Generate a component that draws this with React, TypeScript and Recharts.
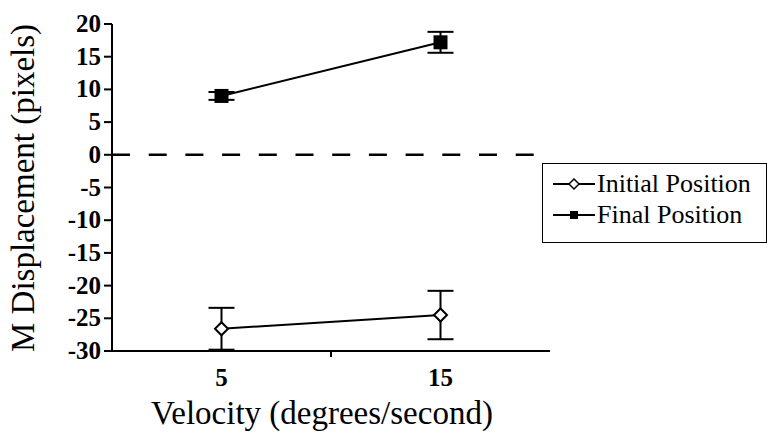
import React from "react";
import {
  LineChart,
  Line,
  XAxis,
  YAxis,
  ErrorBar,
  ReferenceLine,
  Legend,
} from "recharts";

const velocities = [5, 15];
const initialMeans = [-26.6, -24.5];
const initialErrors = [3.2, 3.7];
const finalMeans = [9.0, 17.2];
const finalErrors = [0.6, 1.6];
const yTicks = [20, 15, 10, 5, 0, -5, -10, -15, -20, -25, -30];
const xTicks = [0, 5, 10, 15, 20];
const xLabelTicks = [5, 15];
const seriesNames = ["Initial Position", "Final Position"];
const yTitle = "M Displacement (pixels)";
const xTitle = "Velocity (degrees/second)";

const data = velocities.map((v, i) => ({
  velocity: v,
  initial: initialMeans[i],
  initialErr: initialErrors[i],
  final: finalMeans[i],
  finalErr: finalErrors[i],
}));

const FONT = "'Liberation Serif', 'Times New Roman', serif";
const tickStyle: React.CSSProperties = {
  fontFamily: FONT,
  fontWeight: 700,
  fontSize: 25,
  fill: "#000",
};

const DiamondDot = (props: any) => {
  const { cx, cy } = props;
  if (cx == null || cy == null) return null;
  const r = 6.5;
  return (
    <path
      d={`M${cx},${cy - r} L${cx + r},${cy} L${cx},${cy + r} L${cx - r},${cy} Z`}
      fill="#fff"
      stroke="#000"
      strokeWidth={2}
    />
  );
};

const SquareDot = (props: any) => {
  const { cx, cy } = props;
  if (cx == null || cy == null) return null;
  const s = 7;
  return <rect x={cx - s} y={cy - s} width={2 * s} height={2 * s} fill="#000" />;
};

const renderXTick = (props: any) => {
  const { x, y, payload } = props;
  const v = payload.value;
  if (xLabelTicks.includes(v)) {
    return (
      <text x={x} y={y + 27} textAnchor="middle" style={tickStyle}>
        {v}
      </text>
    );
  }
  if (v === 10) {
    return <line x1={x} x2={x} y1={y - 8} y2={y - 2} stroke="#000" strokeWidth={2} />;
  }
  return <g />;
};

const renderYTick = (props: any) => {
  const { x, y, payload } = props;
  return (
    <text x={x} y={y + 8} textAnchor="end" style={tickStyle}>
      {payload.value}
    </text>
  );
};

const LegendContent = () => (
  <div
    style={{
      border: "1.5px solid #000",
      boxSizing: "border-box",
      width: 225,
      height: 80,
      background: "#fff",
      fontFamily: FONT,
      fontSize: 26,
      paddingTop: 4,
    }}
  >
    {seriesNames.map((name, i) => (
      <div key={name} style={{ display: "flex", alignItems: "center", height: 31, marginLeft: 10 }}>
        <svg width={42} height={20} style={{ marginRight: 2 }}>
          <line x1={0} x2={42} y1={10} y2={10} stroke="#000" strokeWidth={2} />
          {i === 0 ? (
            <path d="M21,5 L26,10 L21,15 L16,10 Z" fill="#fff" stroke="#000" strokeWidth={1.5} />
          ) : (
            <rect x={17} y={6} width={8} height={8} fill="#000" />
          )}
        </svg>
        <span style={{ color: "#000", whiteSpace: "nowrap", fontFamily: FONT, fontSize: 26 }}>{name}</span>
      </div>
    ))}
  </div>
);

export default function App() {
  return (
    <div style={{ position: "absolute", left: 0, top: 0, width: 767, height: 432, background: "#fff" }}>
      <LineChart
        width={767}
        height={432}
        data={data}
        margin={{ top: 24, right: 217, bottom: 80, left: 52 }}
      >
        <XAxis
          dataKey="velocity"
          type="number"
          domain={[0, 20]}
          ticks={xTicks}
          tick={renderXTick}
          tickLine={false}
          height={1}
          axisLine={{ stroke: "#000", strokeWidth: 2 }}
          interval={0}
        />
        <YAxis
          type="number"
          domain={[-30, 20]}
          ticks={yTicks}
          interval={0}
          width={60}
          tickSize={8}
          tickMargin={3}
          axisLine={{ stroke: "#000", strokeWidth: 2 }}
          tickLine={{ stroke: "#000", strokeWidth: 2 }}
          tick={renderYTick}
        />
        <ReferenceLine y={0} stroke="#000" strokeWidth={2.5} strokeDasharray="18 18.7" />
        <Line
          dataKey="initial"
          name={seriesNames[0]}
          stroke="#000"
          strokeWidth={2}
          dot={<DiamondDot />}
          activeDot={false}
          isAnimationActive={false}
        >
          <ErrorBar dataKey="initialErr" width={13} stroke="#000" strokeWidth={2} isAnimationActive={false} />
        </Line>
        <Line
          dataKey="final"
          name={seriesNames[1]}
          stroke="#000"
          strokeWidth={2}
          dot={<SquareDot />}
          activeDot={false}
          isAnimationActive={false}
        >
          <ErrorBar dataKey="finalErr" width={13} stroke="#000" strokeWidth={2} isAnimationActive={false} />
        </Line>
        <Legend
          layout="horizontal"
          verticalAlign="middle"
          align="center"
          content={<LegendContent />}
          wrapperStyle={{ left: 542, top: 163, width: 225, height: 80 }}
        />
      </LineChart>
      <svg
        width={767}
        height={432}
        style={{ position: "absolute", left: 0, top: 0, pointerEvents: "none" }}
      >
        <text
          transform="translate(34,188) rotate(-90)"
          textAnchor="middle"
          style={{ fontFamily: FONT, fontSize: 33, fill: "#000" }}
        >
          {yTitle}
        </text>
        <text x={322} y={424} textAnchor="middle" style={{ fontFamily: FONT, fontSize: 33, fill: "#000" }}>
          {xTitle}
        </text>
      </svg>
    </div>
  );
}
